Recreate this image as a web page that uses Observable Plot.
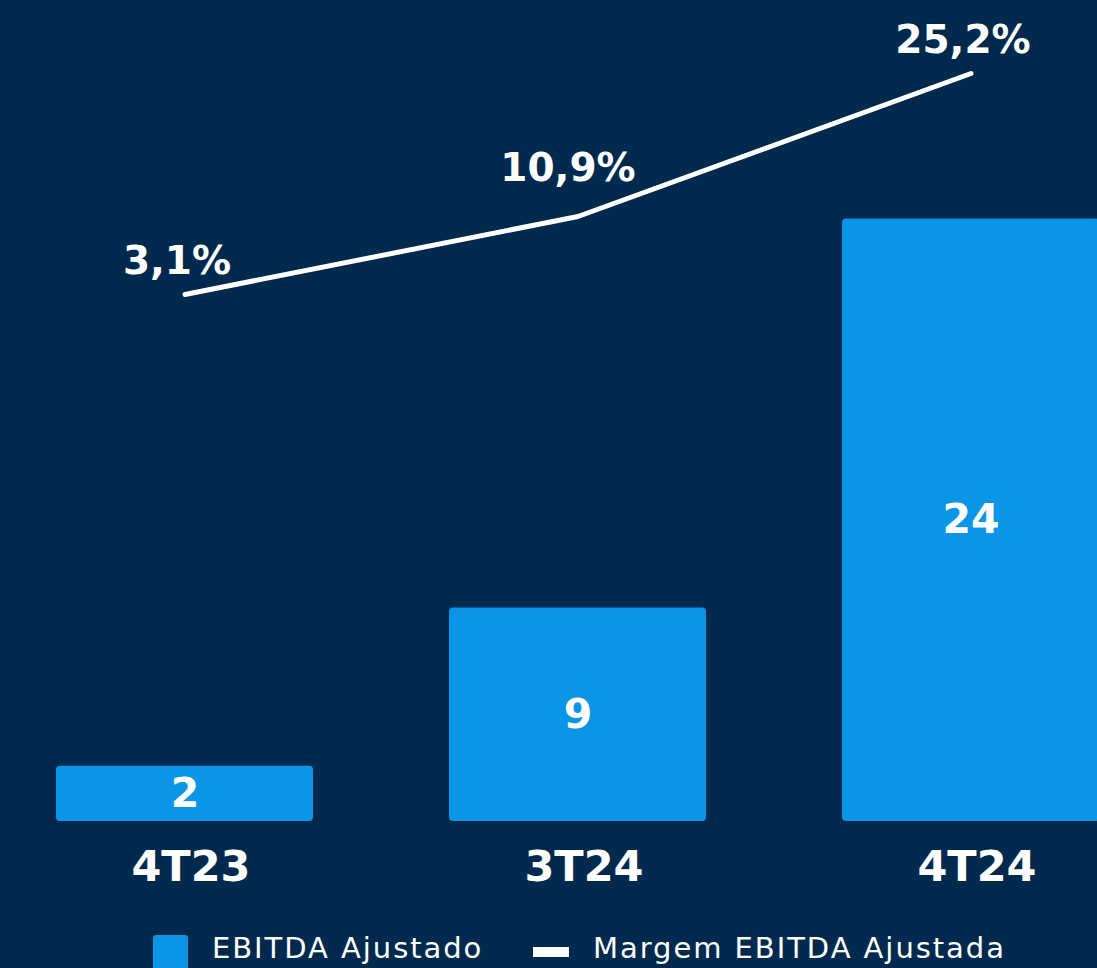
<!DOCTYPE html>
<html>
<head>
<meta charset="utf-8">
<script src="https://cdn.jsdelivr.net/npm/d3@7"></script>
<script src="https://cdn.jsdelivr.net/npm/@observablehq/plot@0.6"></script>
<style>
  html, body { margin: 0; padding: 0; background: #002A4D; overflow: hidden; }
  #wrap { position: relative; width: 1097px; height: 968px; background: #002A4D; }
  #wrap svg { position: absolute; left: 0; top: 0; }
  .legend { position: absolute; top: 935px; left: 0; width: 1097px; height: 40px;
    font-family: "DejaVu Sans", Verdana, sans-serif; font-size: 29px; color: #fff; letter-spacing: 1.95px; }
  .legend .sq { position: absolute; left: 153px; top: 0; width: 35px; height: 40px; background: #0A95E6; border-radius: 3px; }
  .legend .ln { position: absolute; left: 533px; top: 12px; width: 36px; height: 10px; background: #fff; }
  .legend .t1 { position: absolute; left: 212px; top: -4px; }
  .legend .t2 { position: absolute; left: 593px; top: -4px; }
</style>
</head>
<body>
<div id="wrap"></div>
<script>
const periods = ["4T23", "3T24", "4T24"];
const ebitda = [2.2, 8.5, 24.0];
const ebitdaLabels = ["2", "9", "24"];
const margin = [3.1, 10.9, 25.2];
const marginLabels = ["3,1%", "10,9%", "25,2%"];

const rows = periods.map((p, i) => ({
  period: p, ebitda: ebitda[i], ebitdaLabel: ebitdaLabels[i],
  margin: margin[i], marginLabel: marginLabels[i], idx: i
}));

const W = 1097, H = 905, MB = 84;
const xScale = { type: "band", domain: periods, range: [55, 1101], paddingInner: 0.345, paddingOuter: 0 };
const bold = "DejaVu Sans, Verdana, sans-serif";

const bars = Plot.plot({
  width: W, height: H,
  marginTop: 0, marginBottom: MB, marginLeft: 0, marginRight: 0,
  style: { background: "transparent", fontFamily: bold, color: "#fff", overflow: "hidden" },
  x: { ...xScale, label: null },
  y: { domain: [0, 32.7], axis: null },
  marks: [
    Plot.barY(rows, { x: "period", y: "ebitda", fill: "#0A95E6", rx: 4 }),
    Plot.text(rows, { x: "period", y: d => d.ebitda / 2, text: "ebitdaLabel",
      fill: "#fff", fontSize: 41, fontWeight: "bold", fontFamily: bold }),
    Plot.axisX({ tickSize: 0, tickPadding: 29, dx: 6, fontSize: 43, fontWeight: "bold",
      fontFamily: bold, fill: "#fff", label: null })
  ]
});

const line = Plot.plot({
  width: W, height: H,
  marginTop: 0, marginBottom: MB, marginLeft: 0, marginRight: 0,
  style: { background: "transparent", fontFamily: bold, color: "#fff", overflow: "visible" },
  x: { ...xScale, axis: null },
  y: { domain: [-49.6, 32.5], axis: null },
  marks: [
    Plot.line(rows, { x: "period", y: "margin", stroke: "#fff", strokeWidth: 5 }),
    Plot.text(rows, { filter: d => d.idx !== 1, x: "period", y: "margin", text: "marginLabel",
      dx: -8, dy: -33, fill: "#fff", fontSize: 39, fontWeight: "bold", fontFamily: bold }),
    Plot.text(rows, { filter: d => d.idx === 1, x: "period", y: "margin", text: "marginLabel",
      dx: -10, dy: -48, fill: "#fff", fontSize: 39, fontWeight: "bold", fontFamily: bold })
  ]
});

const wrap = document.getElementById("wrap");
wrap.appendChild(bars);
wrap.appendChild(line);

const legend = document.createElement("div");
legend.className = "legend";
legend.innerHTML = '<div class="sq"></div><span class="t1">EBITDA Ajustado</span>' +
  '<div class="ln"></div><span class="t2">Margem EBITDA Ajustada</span>';
wrap.appendChild(legend);
</script>
</body>
</html>
